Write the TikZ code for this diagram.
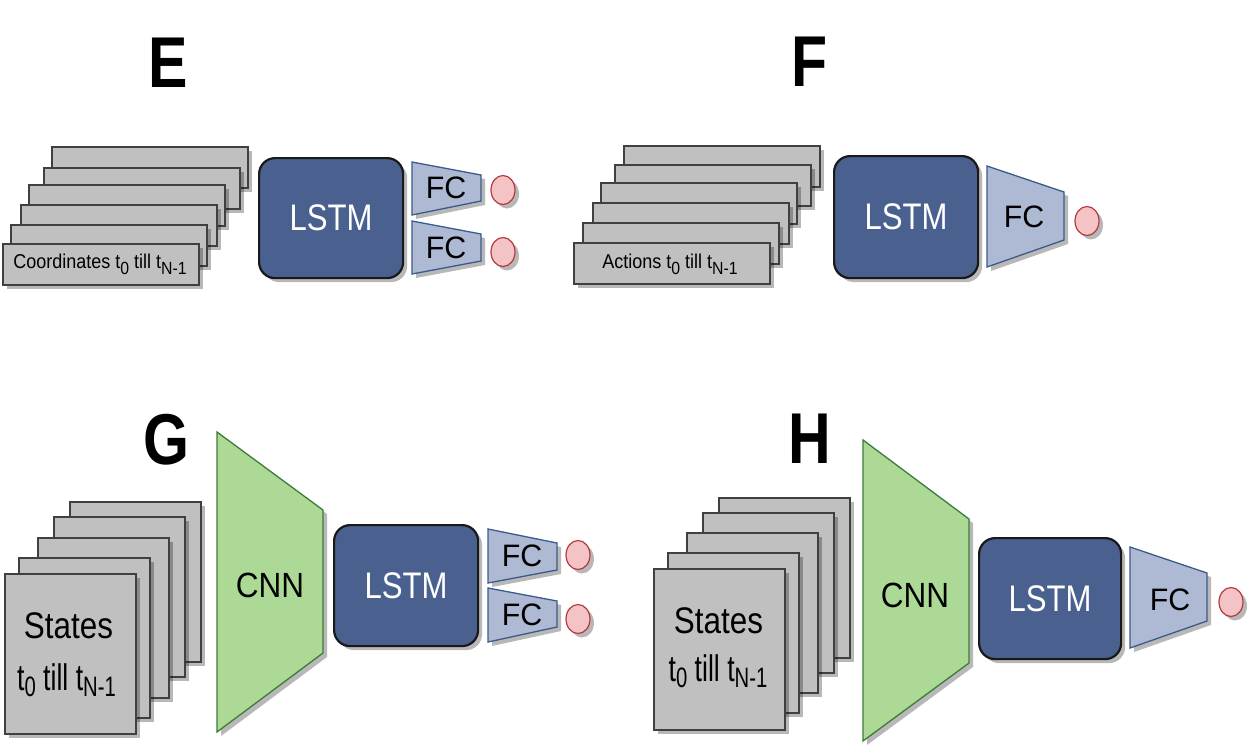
\documentclass[tikz,border=0pt]{standalone}
\usepackage{fontspec}
\setmainfont{Liberation Sans}
\usepackage{graphicx}
\usetikzlibrary{shadows,shapes.geometric}
\definecolor{cardfill}{HTML}{C0C0C0}
\definecolor{cardline}{HTML}{404040}
\definecolor{lstmfill}{HTML}{4A6190}
\definecolor{fcfill}{HTML}{AEB9D3}
\definecolor{fcline}{HTML}{3C5A8A}
\definecolor{outfill}{HTML}{F4C3C5}
\definecolor{outdraw}{HTML}{B5393C}
\definecolor{cnnfill}{HTML}{ACD995}
\definecolor{cnnline}{HTML}{3E7A3A}
\newcommand{\lowsub}[1]{\raisebox{-0.3em}{\scalebox{0.88}{#1}}}
\newcommand{\bigsub}[1]{\raisebox{-0.18em}{\scalebox{0.76}{#1}}}
\newcommand{\squeeze}[2]{\scalebox{#1}[1]{#2}}
\tikzset{
  shad/.style={drop shadow={shadow xshift=4pt, shadow yshift=-4pt, fill=black, opacity=0.28}},
  card/.style={draw=cardline, fill=cardfill, line width=1.5pt, shad, anchor=north west, inner sep=0pt},
  wcard/.style={card, minimum width=196pt, minimum height=41pt},
  scard/.style={card, minimum width=131pt, minimum height=160pt},
  lstm/.style={draw=black!90, fill=lstmfill, line width=2.2pt, rounded corners=16pt, shad, anchor=north west, inner sep=0pt, text=white, font=\fontsize{37}{40}\selectfont},
  fcshape/.style={draw=fcline, fill=fcfill, line width=1.3pt, line join=miter, shad},
  fctext/.style={font=\fontsize{31}{34}\selectfont, inner sep=0pt},
  cnnshape/.style={draw=cnnline, fill=cnnfill, line width=1.3pt, shad},
  cnntext/.style={font=\fontsize{35}{38}\selectfont, inner sep=0pt},
  outc/.style={ellipse, draw=outdraw, fill=outfill, line width=1.2pt, minimum width=24pt, minimum height=29pt, inner sep=0pt, shad},
  lab/.style={font=\fontsize{72}{80}\selectfont\bfseries, anchor=base, inner sep=0pt},
  small/.style={font=\fontsize{20}{24}\selectfont, anchor=base, inner sep=0pt},
  big/.style={font=\fontsize{37}{40}\selectfont, anchor=base, inner sep=0pt}
}
\begin{document}
\begin{tikzpicture}[x=1pt,y=-1pt]
\useasboundingbox (0,0) rectangle (1250,753);
% ---------------- E ----------------
\node[lab] (labE) at (168,87) {\squeeze{0.82}{E}};
\node[wcard] (e1) at (51,146) {};
\node[wcard] (e2) at (43,167) {};
\node[wcard] (e3) at (28,184) {};
\node[wcard] (e4) at (20,204) {};
\node[wcard] (e5) at (10,224) {};
\node[wcard] (e6) at (2,243) {};
\node[small] (etext) at (100,268) {\squeeze{0.9}{Coordinates t\lowsub{0} till t\lowsub{N-1}}};
\node[lstm, minimum width=144pt, minimum height=120pt] (eL) at (258,157) {\squeeze{0.84}{LSTM}};
\draw[fcshape] (412,162) -- (481,175) -- (481,201) -- (412,215) -- cycle;
\node[fctext] (eF1) at (446,188) {\squeeze{0.98}{FC}};
\draw[fcshape] (412,221) -- (481,234) -- (481,261) -- (412,274) -- cycle;
\node[fctext] (eF2) at (446,248) {\squeeze{0.98}{FC}};
\node[outc] (eo1) at (503,190) {};
\node[outc] (eo2) at (503,252) {};
% ---------------- F ----------------
\node[lab] (labF) at (810,86) {\squeeze{0.82}{F}};
\node[wcard] (f1) at (623,145) {};
\node[wcard] (f2) at (614,164) {};
\node[wcard] (f3) at (600,182) {};
\node[wcard] (f4) at (592,202) {};
\node[wcard] (f5) at (582,222) {};
\node[wcard] (f6) at (573,242) {};
\node[small] (ftext) at (670,268) {\squeeze{0.9}{Actions t\lowsub{0} till t\lowsub{N-1}}};
\node[lstm, minimum width=144pt, minimum height=122pt] (fL) at (833,155) {\squeeze{0.84}{LSTM}};
\draw[fcshape] (987,166) -- (1064,192) -- (1064,240) -- (987,267) -- cycle;
\node[fctext] (fF) at (1024,217) {\squeeze{0.98}{FC}};
\node[outc] (fo) at (1087,221) {};
% ---------------- G ----------------
\node[lab] (labG) at (166,464) {\squeeze{0.82}{G}};
\node[scard] (g1) at (69,501) {};
\node[scard] (g2) at (53,516) {};
\node[scard] (g3) at (37,537) {};
\node[scard] (g4) at (18,557) {};
\node[scard] (g5) at (4,573) {};
\node[big] (gs1) at (68.5,638) {\squeeze{0.85}{States}};
\node[big] (gs2) at (66.5,690) {\squeeze{0.72}{t\bigsub{0} till t\bigsub{N-1}}};
\draw[cnnshape] (217,432) -- (323,510) -- (323,653) -- (217,732) -- cycle;
\node[cnntext] (gC) at (270,585) {\squeeze{0.9}{CNN}};
\node[lstm, minimum width=144pt, minimum height=121pt] (gL) at (333,524) {\squeeze{0.84}{LSTM}};
\draw[fcshape] (488,529) -- (557,543) -- (557,570) -- (488,583) -- cycle;
\node[fctext] (gF1) at (522,556) {\squeeze{0.98}{FC}};
\draw[fcshape] (488,588) -- (557,601) -- (557,627) -- (488,642) -- cycle;
\node[fctext] (gF2) at (522,615) {\squeeze{0.98}{FC}};
\node[outc] (go1) at (578,555) {};
\node[outc] (go2) at (578,619) {};
% ---------------- H ----------------
\node[lab] (labH) at (810,463) {\squeeze{0.82}{H}};
\node[scard] (h1) at (718,497) {};
\node[scard] (h2) at (702,512) {};
\node[scard] (h3) at (686,532) {};
\node[scard] (h4) at (667,552) {};
\node[scard, minimum height=161pt] (h5) at (653,568) {};
\node[big] (hs1) at (718.5,633) {\squeeze{0.85}{States}};
\node[big] (hs2) at (718,681) {\squeeze{0.72}{t\bigsub{0} till t\bigsub{N-1}}};
\draw[cnnshape] (863,440) -- (969,519) -- (969,663) -- (863,741) -- cycle;
\node[cnntext] (hC) at (915,595) {\squeeze{0.9}{CNN}};
\node[lstm, minimum width=142pt, minimum height=121pt] (hL) at (978,537) {\squeeze{0.84}{LSTM}};
\draw[fcshape] (1130,547) -- (1207,573) -- (1207,621) -- (1130,648) -- cycle;
\node[fctext] (hF) at (1170,600) {\squeeze{0.98}{FC}};
\node[outc] (ho) at (1231,602) {};
\end{tikzpicture}
\end{document}
